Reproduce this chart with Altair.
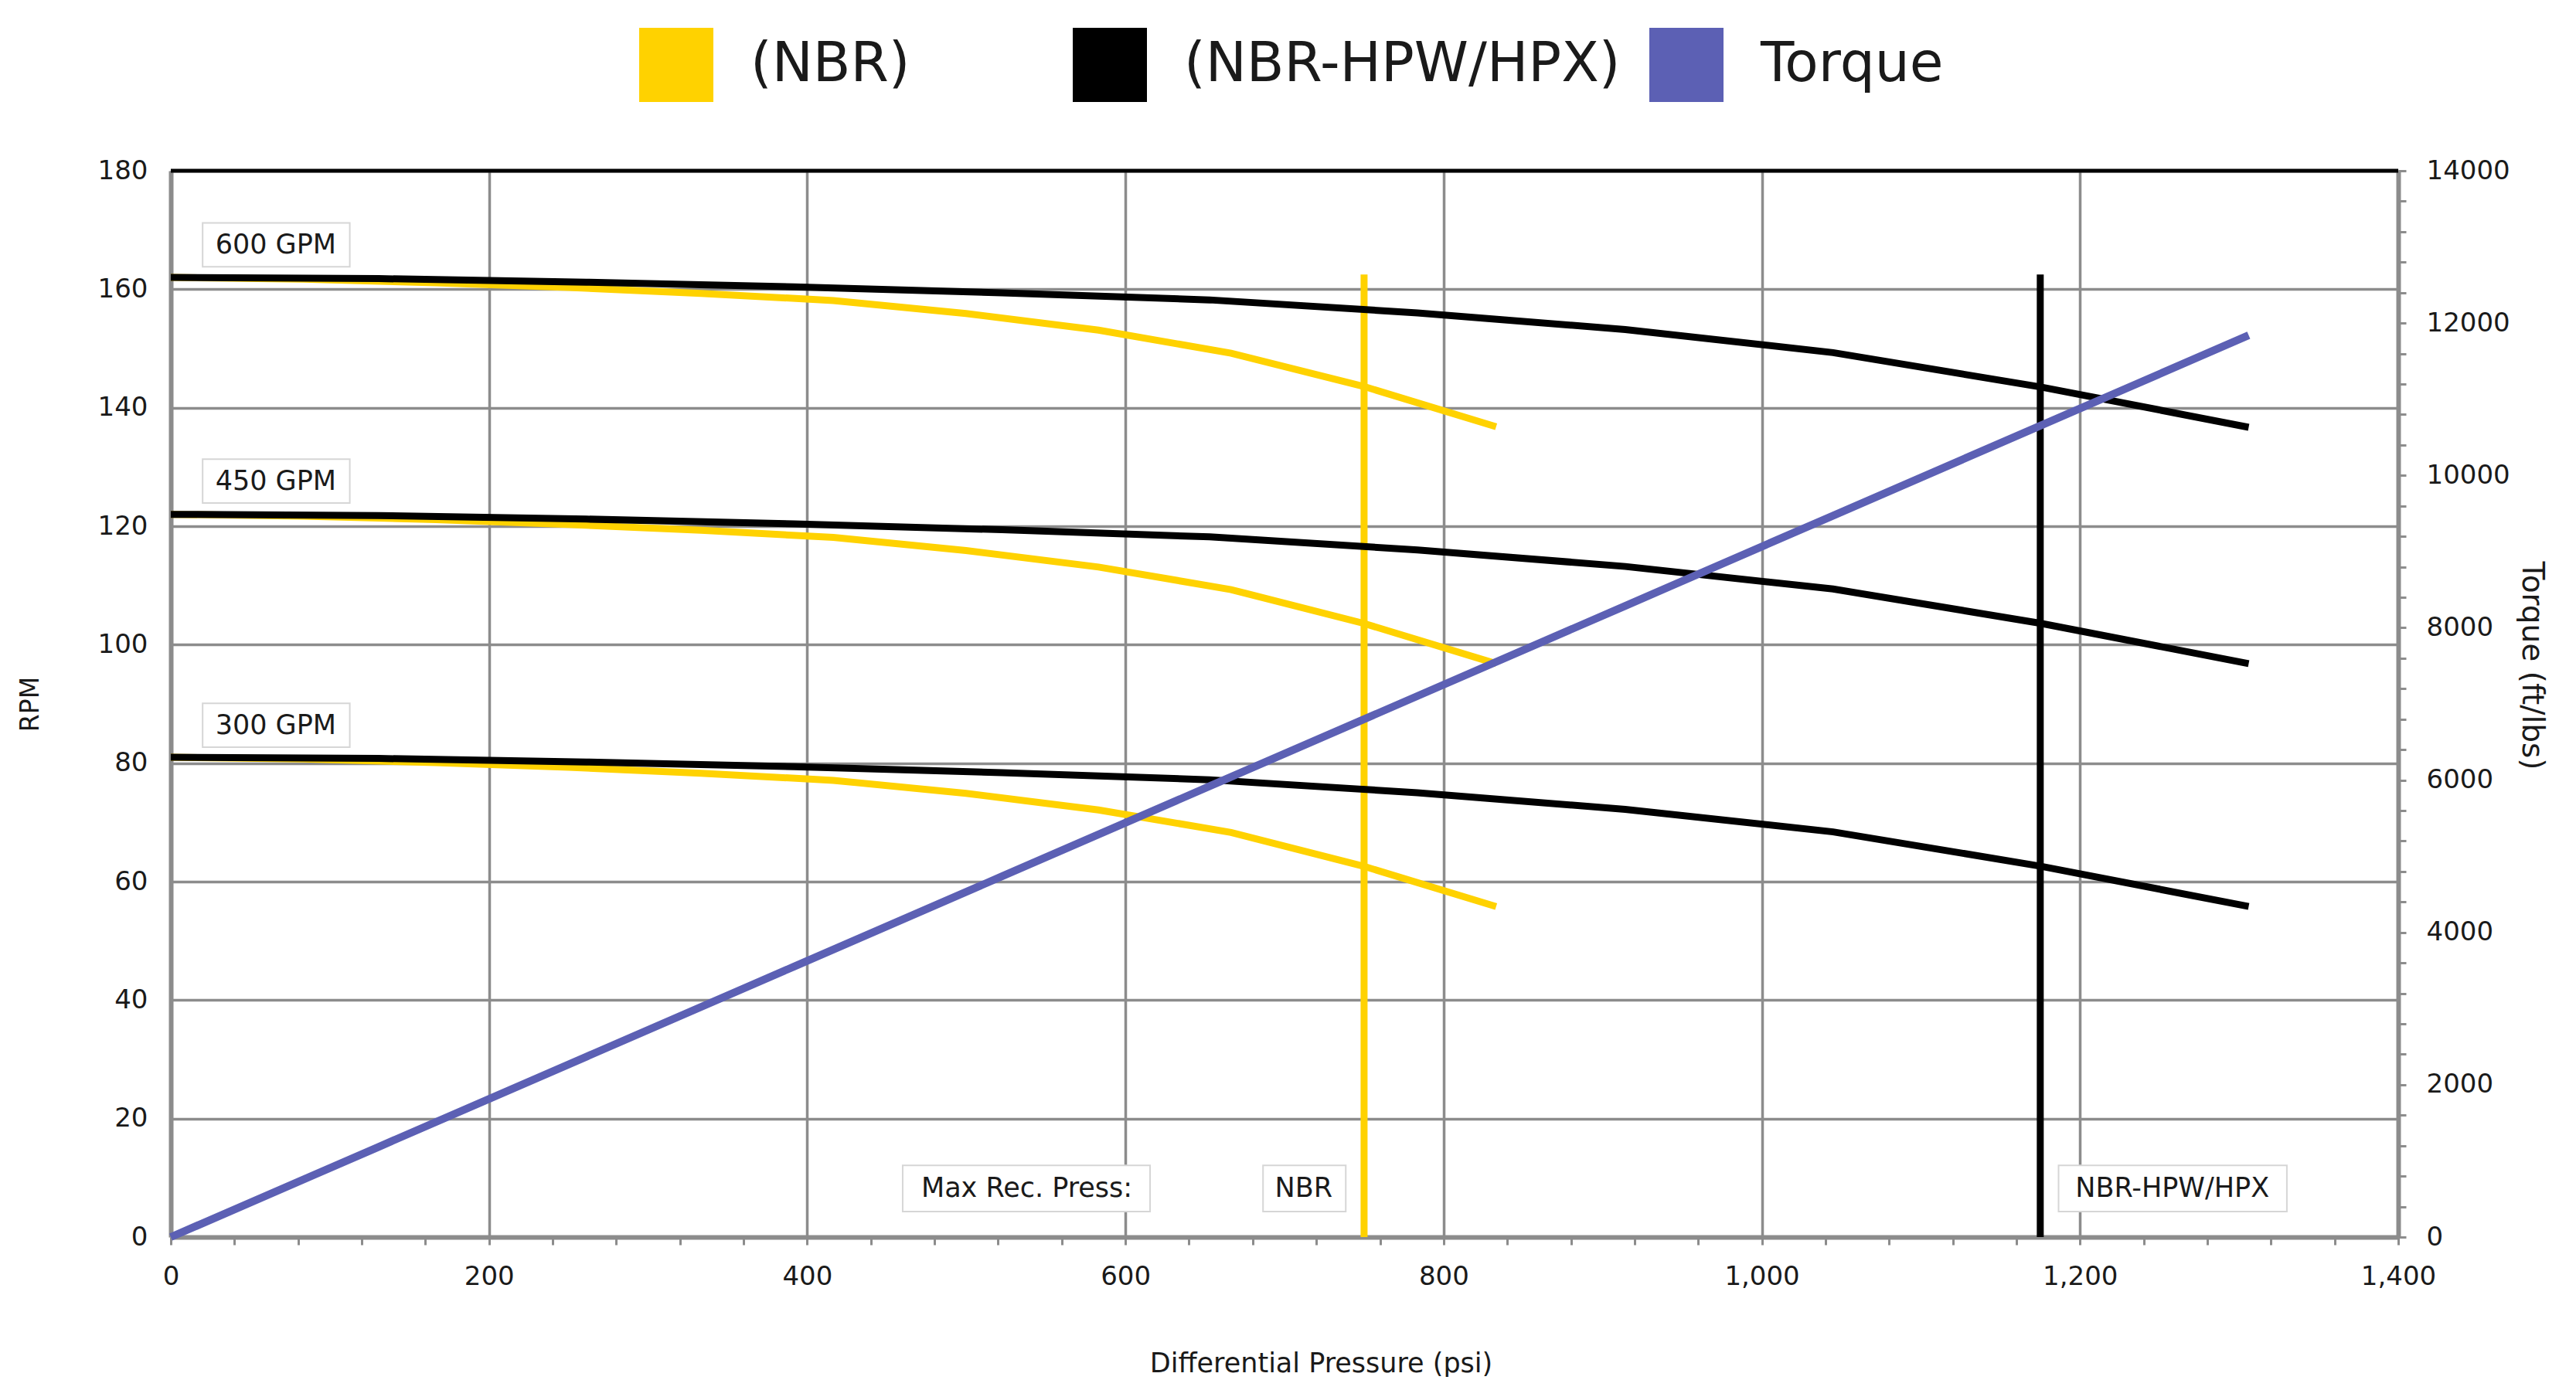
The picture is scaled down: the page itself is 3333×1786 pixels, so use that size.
import altair as alt
import pandas as pd

# ---------------- data ----------------
# pressure nodes (psi)
psi_hpw = [0, 130.6, 261.2, 391.8, 522.4, 653.0, 783.6, 914.2, 1044.8, 1175.4, 1306.0]
psi_nbr = [0, 83.3, 166.6, 249.9, 333.2, 416.5, 499.8, 583.1, 666.4, 749.7, 833.0]

# RPM curves, NBR-HPW/HPX (black)
rpm_hpw_600 = [162.0, 161.8, 161.2, 160.4, 159.4, 158.2, 156.0, 153.2, 149.3, 143.5, 136.7]
rpm_hpw_450 = [122.0, 121.8, 121.2, 120.4, 119.4, 118.2, 116.0, 113.2, 109.4, 103.6, 96.8]
rpm_hpw_300 = [81.0, 80.8, 80.2, 79.4, 78.4, 77.2, 75.0, 72.2, 68.4, 62.6, 55.8]

# RPM curves, NBR (yellow)
rpm_nbr_600 = [162.0, 161.7, 161.1, 160.3, 159.3, 158.1, 155.9, 153.1, 149.2, 143.6, 136.8]
rpm_nbr_450 = [122.0, 121.7, 121.1, 120.3, 119.3, 118.1, 115.9, 113.1, 109.3, 103.6, 96.8]
rpm_nbr_300 = [81.0, 80.7, 80.1, 79.3, 78.3, 77.1, 74.9, 72.1, 68.3, 62.6, 55.8]

# torque line (ft/lbs)
torque_vals = [0, 1184, 2368, 3552, 4736, 5920, 7104, 8288, 9472, 10656, 11840]

series_names = ["(NBR)", "(NBR-HPW/HPX)"]
torque_name = "Torque"
gpm_labels = ["600 GPM", "450 GPM", "300 GPM"]
gpm_label_rpm = [167.5, 127.6, 86.4]

# max recommended pressure
limit_names = ["NBR", "NBR-HPW/HPX"]
limit_psi = [750, 1175]
limit_top_rpm = [162.5, 162.5]

note_texts = ["Max Rec. Press:", "NBR", "NBR-HPW/HPX"]
note_psi_center = [538, 712, 1258]
note_psi_left = [460, 686.5, 1186.5]
note_psi_right = [615.5, 738.5, 1330]
note_rpm = [8.2, 8.2, 8.2]

# ---------------- styling ----------------
W, H = 2882, 1380
FONT = "DejaVu Sans"
YELLOW = "#FFD200"
BLACK = "#000000"
BLUE = "#5C60B4"
GRID = "#8C8C8C"
TXT = "#1a1a1a"

rows = []
for name, vals in zip(gpm_labels, [rpm_nbr_600, rpm_nbr_450, rpm_nbr_300]):
    for p, r in zip(psi_nbr, vals):
        rows.append({"psi": p, "rpm": r, "series": series_names[0], "curve": "NBR " + name})
nbr_df = pd.DataFrame(rows)
rows = []
for name, vals in zip(gpm_labels, [rpm_hpw_600, rpm_hpw_450, rpm_hpw_300]):
    for p, r in zip(psi_hpw, vals):
        rows.append({"psi": p, "rpm": r, "series": series_names[1], "curve": "HPW " + name})
hpw_df = pd.DataFrame(rows)
torque_df = pd.DataFrame({"psi": psi_hpw, "torque": torque_vals, "series": torque_name})

gpm_df = pd.DataFrame({"label": gpm_labels, "rpm": gpm_label_rpm,
                       "x": [66] * 3, "x1": [20] * 3, "x2": [112.5] * 3})
gpm_df["y1"] = gpm_df["rpm"] - 3.7
gpm_df["y2"] = gpm_df["rpm"] + 3.7
note_df = pd.DataFrame({"label": note_texts, "x": note_psi_center, "x1": note_psi_left,
                        "x2": note_psi_right, "rpm": note_rpm})
note_df["y1"] = note_df["rpm"] - 3.9
note_df["y2"] = note_df["rpm"] + 3.9
limit_df = pd.DataFrame({"name": limit_names, "psi": limit_psi, "top": limit_top_rpm, "bottom": [0, 0]})
top_df = pd.DataFrame({"rpm": [180]})

x_scale = alt.Scale(domain=[0, 1400], nice=False, zero=False)
y_scale = alt.Scale(domain=[0, 180], nice=False)
t_scale = alt.Scale(domain=[0, 14000], nice=False)
color_scale = alt.Scale(domain=series_names, range=[YELLOW, BLACK])
torque_scale = alt.Scale(domain=[torque_name], range=[BLUE])

x_axis = alt.Axis(
    values=list(range(0, 1401, 40)),
    labelExpr="datum.value % 200 === 0 ? format(datum.value, ',') : ''",
    labelOverlap=False, labelFlush=False,
    grid=True, gridColor=GRID, gridWidth=3.5,
    gridOpacity={"condition": {"test": "datum.value % 200 !== 0", "value": 0}, "value": 1},
    domainColor=GRID, domainWidth=6, tickColor=GRID, tickWidth=3, tickSize=10,
    labelFont=FONT, labelFontSize=34, labelColor=TXT, labelPadding=24,
    title="Differential Pressure (psi)", titleFont=FONT, titleFontSize=35,
    titleFontWeight="normal", titleColor=TXT, titlePadding=78, titleX=1488,
)
y_axis = alt.Axis(
    values=list(range(0, 181, 20)), labelOverlap=False,
    grid=True, gridColor=GRID, gridWidth=3.5,
    domainColor=GRID, domainWidth=6, ticks=False,
    labelFont=FONT, labelFontSize=34, labelColor=TXT, labelPadding=30,
    title="RPM", titleFont=FONT, titleFontSize=33, titleFontWeight="normal",
    titleColor=TXT, titlePadding=70,
)
t_axis = alt.Axis(
    orient="right", values=list(range(0, 14001, 400)),
    labelExpr="datum.value % 2000 === 0 ? '' + datum.value : ''", labelOverlap=False,
    grid=False, domainColor=GRID, domainWidth=6, tickColor=GRID, tickWidth=3, tickSize=10,
    labelFont=FONT, labelFontSize=34, labelColor=TXT, labelPadding=26,
    title="Torque (ft/lbs)", titleFont=FONT, titleFontSize=39, titleFontWeight="normal",
    titleColor=TXT, titlePadding=8, titleY=640,
)
legend_style = dict(
    title=None, orient="none", legendY=-185, direction="horizontal",
    symbolType="square", symbolSize=48 * 48, symbolStrokeWidth=48,
    labelFont=FONT, labelFontSize=71, labelColor=TXT, labelOffset=48, labelLimit=0,
)
legend_rpm = alt.Legend(legendX=606, columnPadding=138, **legend_style)
legend_torque = alt.Legend(legendX=1913, **legend_style)

X = alt.X("psi:Q", scale=x_scale, axis=x_axis)
Y = alt.Y("rpm:Q", scale=y_scale, axis=y_axis)

top_rule = alt.Chart(top_df).mark_rule(color=BLACK, strokeWidth=5).encode(y=Y)

nbr_lines = alt.Chart(nbr_df).mark_line(strokeWidth=9).encode(
    x=X, y=Y, detail="curve:N",
    color=alt.Color("series:N", scale=color_scale, legend=legend_rpm))
hpw_lines = alt.Chart(hpw_df).mark_line(strokeWidth=9).encode(
    x=X, y=Y, detail="curve:N",
    color=alt.Color("series:N", scale=color_scale, legend=legend_rpm))
hpw_rule = alt.Chart(limit_df[limit_df["name"] == "NBR-HPW/HPX"]).mark_rule(
    color=BLACK, strokeWidth=9).encode(x=X, y=alt.Y("top:Q", scale=y_scale, axis=y_axis), y2="bottom:Q")
nbr_rule = alt.Chart(limit_df[limit_df["name"] == "NBR"]).mark_rule(
    color=YELLOW, strokeWidth=9).encode(x=X, y=alt.Y("top:Q", scale=y_scale, axis=y_axis), y2="bottom:Q")

box_style = dict(fill="white", stroke="#d6d6d6", strokeWidth=2)
gpm_boxes = alt.Chart(gpm_df).mark_rect(**box_style).encode(
    x=alt.X("x1:Q", scale=x_scale, axis=x_axis), x2="x2:Q",
    y=alt.Y("y1:Q", scale=y_scale, axis=y_axis), y2="y2:Q")
gpm_text = alt.Chart(gpm_df).mark_text(font=FONT, fontSize=35, color=TXT, align="center",
                                       baseline="middle").encode(
    x=alt.X("x:Q", scale=x_scale, axis=x_axis), y=Y, text="label:N")
note_boxes = alt.Chart(note_df).mark_rect(**box_style).encode(
    x=alt.X("x1:Q", scale=x_scale, axis=x_axis), x2="x2:Q",
    y=alt.Y("y1:Q", scale=y_scale, axis=y_axis), y2="y2:Q")
note_text = alt.Chart(note_df).mark_text(font=FONT, fontSize=35, color=TXT, align="center",
                                         baseline="middle").encode(
    x=alt.X("x:Q", scale=x_scale, axis=x_axis), y=Y, text="label:N")

rpm_layers = alt.layer(nbr_lines, nbr_rule, hpw_lines, hpw_rule, top_rule,
                       gpm_boxes, gpm_text, note_boxes, note_text)

torque_line = alt.Chart(torque_df).mark_line(strokeWidth=10).encode(
    x=X, y=alt.Y("torque:Q", scale=t_scale, axis=t_axis),
    stroke=alt.Stroke("series:N", scale=torque_scale, legend=legend_torque))

chart = alt.layer(rpm_layers, torque_line).resolve_scale(y="independent").properties(
    width=W, height=H,
    padding={"left": 15, "top": 28, "right": 10, "bottom": 0},
    background="white",
).configure_view(stroke=None)

chart.save("out.html", embed_options={"renderer": "svg", "actions": False})
